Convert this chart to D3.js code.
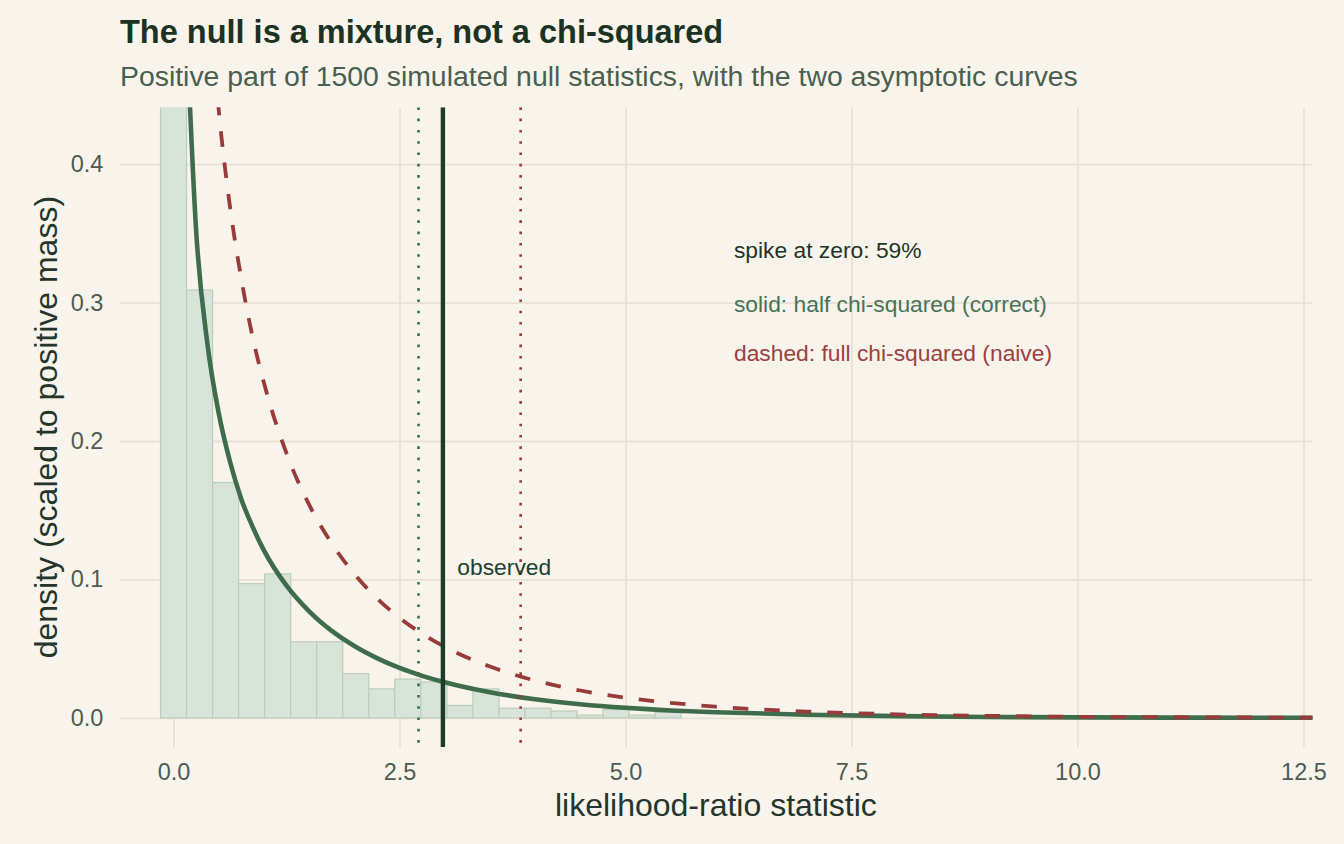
<!DOCTYPE html>
<html>
<head>
<meta charset="utf-8">
<script src="https://cdn.jsdelivr.net/npm/d3@7"></script>
<style>
body { margin:0; background:#f8f4eb; }
svg { display:block; font-family:"Liberation Sans", Arial, Helvetica, sans-serif; }
</style>
</head>
<body>
<svg></svg>
<script>
// DATA
// histogram of the positive part, left edge of each bin and its density
var binLeft = [-0.144, 0.144, 0.432, 0.72, 1.008, 1.296, 1.584, 1.872, 2.16, 2.448,
	2.736, 3.024, 3.312, 3.6, 3.888, 4.176, 4.464, 4.752, 5.04, 5.328,
	5.616, 5.904, 6.192, 6.48, 6.768, 7.056, 7.344, 7.632, 7.92, 8.208,
	8.496, 8.784, 9.072, 9.36, 9.648, 9.936, 10.224, 10.512, 10.8, 11.088,
	11.376, 11.664, 11.952, 12.24];
var binWidth = 0.288;
var binDensity = [2.5, 0.309, 0.170, 0.097, 0.104, 0.055, 0.055, 0.032, 0.021, 0.028,
	0.026, 0.009, 0.021, 0.007, 0.007, 0.005, 0.002, 0.006, 0.002, 0.004,
	0, 0, 0, 0, 0, 0, 0, 0, 0, 0,
	0, 0, 0, 0, 0, 0, 0, 0, 0, 0,
	0, 0, 0, 0];

// the two asymptotic curves
var curveX = [0.125, 0.25, 0.375, 0.5, 0.625, 0.75, 0.875, 1.0, 1.25, 1.5,
	1.75, 2.0, 2.25, 2.5, 2.75, 3.0, 3.5, 4.0, 4.5, 5.0,
	5.5, 6, 7, 8, 9, 10, 11, 12, 12.75];
var halfChisq = [0.530, 0.352, 0.270, 0.220, 0.185, 0.158, 0.138, 0.121, 0.0955, 0.0770,
	0.0629, 0.0519, 0.0432, 0.0361, 0.0304, 0.0257, 0.0185, 0.0135, 0.0099, 0.0073,
	0.0054, 0.0041, 0.0023, 0.0013, 0.0007, 0.0004, 0.0002, 0.0001, 0.0001];
var fullChisq = [1.060, 0.704, 0.540, 0.439, 0.369, 0.317, 0.275, 0.242, 0.191, 0.154,
	0.126, 0.104, 0.0864, 0.0723, 0.0608, 0.0514, 0.0371, 0.0270, 0.0198, 0.0146,
	0.0109, 0.0081, 0.0046, 0.0026, 0.0015, 0.0008, 0.0005, 0.0003, 0.0002];

// reference lines
var critHalf = 2.71;
var critFull = 3.84;
var observed = 2.98;

var xTicks = [0, 2.5, 5, 7.5, 10, 12.5];
var yTicks = [0, 0.1, 0.2, 0.3, 0.4];

// COLOURS
var bg = "#f8f4eb";
var gridCol = "#e7e2d4";
var green = "#3f6d4b";
var red = "#993b3b";
var dark = "#1e3a28";

// SVG
var W = 1344, H = 844;
var margin = {top: 107.3, right: 31.5, bottom: 97, left: 119.3};
var width = W - margin.left - margin.right;
var height = H - margin.top - margin.bottom;

var svg = d3.select("svg").attr("width", W).attr("height", H);
svg.append("rect").attr("width", W).attr("height", H).attr("fill", bg);

svg.append("clipPath").attr("id", "panel")
.append("rect").attr("width", width).attr("height", height);

var g = svg.append("g").attr("transform", "translate(" + margin.left + "," + margin.top + ")");

// SCALES
var x = d3.scaleLinear().domain([-0.6, 12.6]).range([0, width]);
var y = d3.scaleLinear().domain([-0.021, 0.441]).range([height, 0]);

// GRID
g.append("g")
.attr("transform", "translate(0," + height + ")")
.call(d3.axisBottom(x).tickValues(xTicks).tickSize(-height).tickFormat(""))
.call(function(a){ a.select(".domain").remove(); })
.selectAll("line").attr("stroke", gridCol).attr("stroke-width", 1.8);

g.append("g")
.call(d3.axisLeft(y).tickValues(yTicks).tickSize(-width).tickFormat(""))
.call(function(a){ a.select(".domain").remove(); })
.selectAll("line").attr("stroke", gridCol).attr("stroke-width", 1.8);

var plot = g.append("g").attr("clip-path", "url(#panel)");

// HISTOGRAM
plot.selectAll(".bar")
.data(binLeft)
.enter()
.append("rect")
.attr("class", "bar")
.attr("x", (d)=>x(d))
.attr("width", (d)=>x(d + binWidth) - x(d))
.attr("y", (d,i)=>y(binDensity[i]))
.attr("height", (d,i)=>y(0) - y(binDensity[i]))
.attr("fill", "#d8e3da")
.attr("stroke", "#bccdbf")
.attr("stroke-width", 1.2);

// CURVES
var line = function(ys) {
	return d3.line()
	.x((d)=>x(d))
	.y((d,i)=>y(ys[i]))
	.curve(d3.curveMonotoneX);
};

plot.append("path")
.datum(curveX)
.attr("d", line(halfChisq))
.attr("fill", "none")
.attr("stroke", green)
.attr("stroke-width", 4.6);

plot.append("path")
.datum(curveX)
.attr("d", line(fullChisq))
.attr("fill", "none")
.attr("stroke", red)
.attr("stroke-width", 3.8)
.attr("stroke-dasharray", "15.5,16");

// VERTICAL LINES
var vlines = [
	{v: critHalf, col: green, w: 2.6, dash: "2.6,8.7"},
	{v: critFull, col: red, w: 2.6, dash: "2.6,8.7"},
	{v: observed, col: dark, w: 4.4, dash: null}
];

plot.selectAll(".vline")
.data(vlines)
.enter()
.append("line")
.attr("class", "vline")
.attr("x1", (d)=>x(d.v))
.attr("x2", (d)=>x(d.v))
.attr("y1", 0)
.attr("y2", height)
.attr("stroke", (d)=>d.col)
.attr("stroke-width", (d)=>d.w)
.attr("stroke-dasharray", (d)=>d.dash);

// ANNOTATIONS
var notes = [
	{x: 6.2, y: 0.338, t: "spike at zero: 59%", col: "#1f3427"},
	{x: 6.2, y: 0.299, t: "solid: half chi-squared (correct)", col: "#4a7254"},
	{x: 6.2, y: 0.2635, t: "dashed: full chi-squared (naive)", col: "#9c4141"},
	{x: observed + 0.16, y: 0.109, t: "observed", col: "#23402d"}
];

g.selectAll(".note")
.data(notes)
.enter()
.append("text")
.attr("class", "note")
.attr("x", (d)=>x(d.x))
.attr("y", (d)=>y(d.y))
.attr("dy", "0.35em")
.attr("fill", (d)=>d.col)
.style("font-size", "22.8px")
.text((d)=>d.t);

// AXES
var xAxis = g.append("g")
.attr("transform", "translate(0," + height + ")")
.call(d3.axisBottom(x).tickValues(xTicks).tickSize(0).tickPadding(16).tickFormat(d3.format(".1f")));
xAxis.select(".domain").remove();

var yAxis = g.append("g")
.call(d3.axisLeft(y).tickValues(yTicks).tickSize(0).tickPadding(16).tickFormat(d3.format(".1f")));
yAxis.select(".domain").remove();

svg.selectAll(".tick text")
.attr("fill", "#4e5b52")
.style("font-size", "23.5px");

// TITLES
svg.append("text")
.attr("x", margin.left + width / 2)
.attr("y", 816)
.attr("text-anchor", "middle")
.attr("fill", "#26352b")
.style("font-size", "32px")
.text("likelihood-ratio statistic");

svg.append("text")
.attr("transform", "translate(57," + (margin.top + height / 2) + ") rotate(-90)")
.attr("text-anchor", "middle")
.attr("fill", "#26352b")
.style("font-size", "32px")
.text("density (scaled to positive mass)");

svg.append("text")
.attr("x", 120)
.attr("y", 43)
.attr("fill", "#1c3324")
.style("font-size", "32.5px")
.style("font-weight", "bold")
.text("The null is a mixture, not a chi-squared");

svg.append("text")
.attr("x", 120)
.attr("y", 86)
.attr("fill", "#4a5f50")
.style("font-size", "28.4px")
.text("Positive part of 1500 simulated null statistics, with the two asymptotic curves");
</script>
</body>
</html>
